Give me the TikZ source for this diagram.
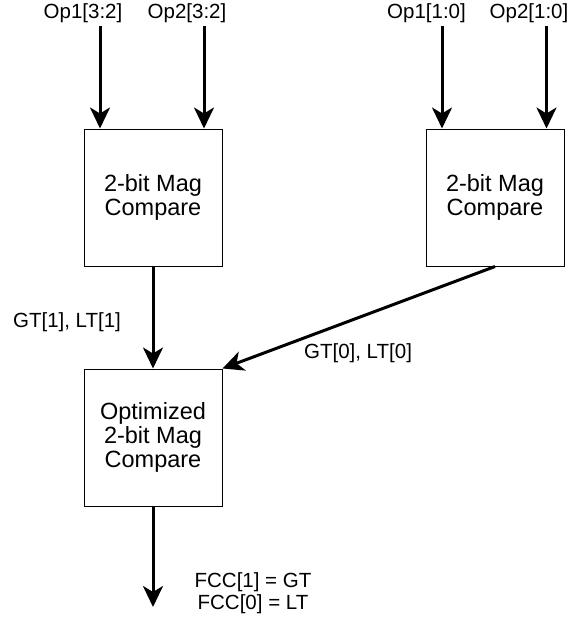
\documentclass[tikz,border=0pt]{standalone}
\usepackage{fontspec}
\setmainfont{Liberation Sans}
\usetikzlibrary{arrows.meta}
\begin{document}
\begin{tikzpicture}[x=1pt,y=-1pt,
  blk/.style={draw=black,line width=1pt,minimum width=138pt,minimum height=137pt,inner sep=0pt,align=center,font=\fontsize{23.5}{24}\selectfont},
  lbl/.style={inner sep=0pt,align=center,font=\fontsize{20.5}{21.5}\selectfont},
  arr/.style={line width=3pt,-{Stealth[length=21pt,width=20pt,inset=6pt]}}]
\useasboundingbox (0,0) rectangle (568,621);
\node[blk] (b1) at (153,197.5) {2-bit Mag\\Compare};
\node[blk] (b2) at (495,197.5) {2-bit Mag\\Compare};
\node[blk] (b3) at (153,437.5) {Optimized\\2-bit Mag\\Compare};
\node[lbl] (l1) at (83,13) {Op1[3:2]};
\node[lbl] (l2) at (187,13) {Op2[3:2]};
\node[lbl] (l3) at (426.5,13) {Op1[1:0]};
\node[lbl] (l4) at (529,13) {Op2[1:0]};
\node[lbl] (l5) at (67,322) {GT[1], LT[1]};
\node[lbl] (l6) at (358,353) {GT[0], LT[0]};
\node[lbl] (l7) at (253,593) {FCC[1] = GT\\FCC[0] = LT};
\coordinate (s1) at (100,26);
\coordinate (s2) at (204,26);
\coordinate (s3) at (442,26);
\coordinate (s4) at (546.5,26);
\coordinate (e5) at (153,607);
\draw[arr] (s1) -- (s1 |- b1.north);
\draw[arr] (s2) -- (s2 |- b1.north);
\draw[arr] (s3) -- (s3 |- b2.north);
\draw[arr] (s4) -- (s4 |- b2.north);
\draw[arr] (b1.south) -- (b3.north);
\draw[arr] (b2.south) -- (b3.north east);
\draw[arr] (b3.south) -- (e5);
\end{tikzpicture}
\end{document}
